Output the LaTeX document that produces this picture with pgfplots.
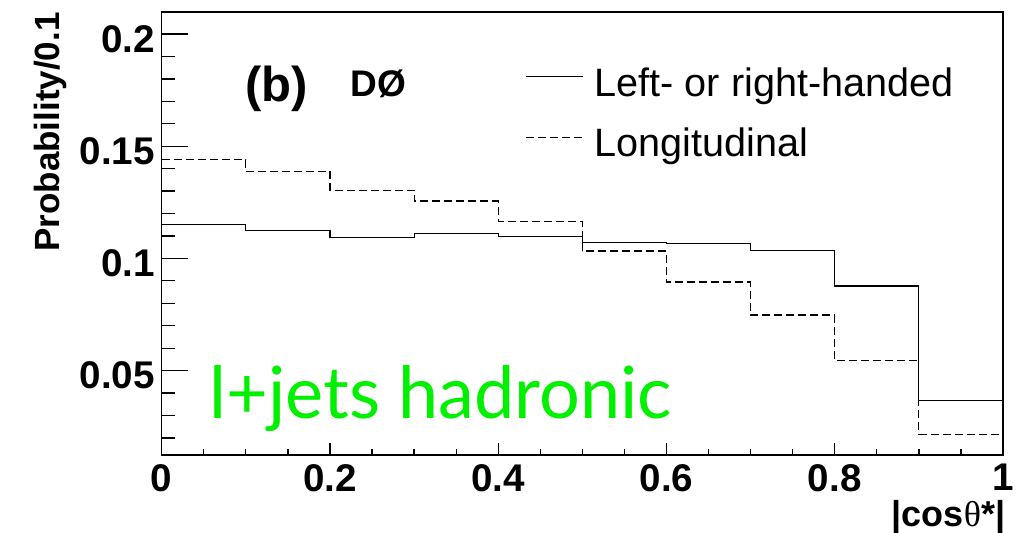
\documentclass[border=0pt]{standalone}
\usepackage{fontspec}
\setmainfont{Liberation Sans}
\newfontfamily\gillfont{Lato}
\newfontfamily\symfont{Liberation Serif}
\usepackage{pgfplots}
\pgfplotsset{compat=1.18}
\definecolor{labgreen}{RGB}{0,240,0}

\begin{document}
\begin{tikzpicture}
\path[use as bounding box] (-80.85pt,-39pt) rectangle (430.65pt,227.5pt);
\begin{axis}[
  name=ax,
  scale only axis,
  width=420.65pt, height=221.5pt,
  xmin=0, xmax=1, ymin=0.0124, ymax=0.2098,
  clip=false,
  axis line style={line width=0.65pt, black},
  tick pos=left, tick align=inside,
  tick style={line width=0.65pt, black},
  major tick length=13.3pt, minor tick length=6.5pt,
  every x tick/.append style={/pgfplots/major tick length=6.2pt, /pgfplots/minor tick length=2.9pt},
  xtick={0,0.2,0.4,0.6,0.8,1},
  xticklabels={0,0.2,0.4,0.6,0.8,1},
  minor xtick={0.05,0.1,0.15,0.25,0.3,0.35,0.45,0.5,0.55,0.65,0.7,0.75,0.85,0.9,0.95},
  ytick={0.05,0.1,0.15,0.2},
  yticklabels={0.05,0.1,0.15,0.2},
  minor ytick={0.02,0.03,0.04,0.06,0.07,0.08,0.09,0.11,0.12,0.13,0.14,0.16,0.17,0.18,0.19},
  ticklabel style={font=\fontsize{19.3}{23}\selectfont\bfseries},
  /pgf/number format/assume math mode=true,
  xticklabel style={inner sep=0pt, anchor=north, yshift=-4.5pt},
  yticklabel style={inner sep=0pt, anchor=east, xshift=-3.3pt, yshift=-2.5pt},
  legend cell align=left,
  legend image code/.code={\draw[#1] (0pt,3.5pt) -- (28.5pt,3.5pt);},
  legend style={at={(rel axis cs:0.432,0.875)}, anchor=north west,
    draw=none, fill=none, inner sep=0pt, row sep=14.4pt,
    font=\fontsize{19.8}{24}\selectfont,
    nodes={inner sep=0pt},
    /tikz/every odd column/.append style={column sep=5.5pt}},
]
% left- or right-handed W helicity
\addplot[const plot mark left, line width=0.55pt, black] coordinates {
  (0.0,0.1150) (0.1,0.1124) (0.2,0.1092) (0.3,0.1110) (0.4,0.1097)
  (0.5,0.1072) (0.6,0.1068) (0.7,0.1036) (0.8,0.0877) (0.9,0.0367)
  (1.0,0.0367)};
\addlegendentry{Left- or right-handed}
% longitudinal W helicity
\addplot[const plot mark left, line width=0.55pt, black, dash pattern=on 4pt off 2pt] coordinates {
  (0.0,0.1440) (0.1,0.1388) (0.2,0.1304) (0.3,0.1256) (0.4,0.1164)
  (0.5,0.1033) (0.6,0.0895) (0.7,0.0748) (0.8,0.0545) (0.9,0.0215)
  (1.0,0.0215)};
\addlegendentry{Longitudinal}

\node[anchor=base west, inner sep=0pt, font=\fontsize{24.5}{29}\selectfont\bfseries]
  at (rel axis cs:0.099,0.799) {(b)};
\node[anchor=base west, inner sep=0pt, font=\fontsize{18.5}{22}\selectfont\bfseries]
  at (rel axis cs:0.224,0.810) {DØ};
\node[anchor=base west, inner sep=0pt, text=labgreen, font=\gillfont\fontsize{36}{43}\selectfont]
  at (rel axis cs:0.0562,0.0835) {l+jets hadronic};
\node[anchor=base east, inner sep=0pt, font=\fontsize{18}{22}\selectfont\bfseries]
  at (rel axis cs:1.003,-0.162) {|cos{\symfont\mdseries θ}*|};
\node[rotate=90, anchor=base east, inner sep=0pt, font=\fontsize{17.5}{21}\selectfont\bfseries]
  at (rel axis cs:-0.122,1.0) {Probability/0.1};
\end{axis}
\end{tikzpicture}
\end{document}
